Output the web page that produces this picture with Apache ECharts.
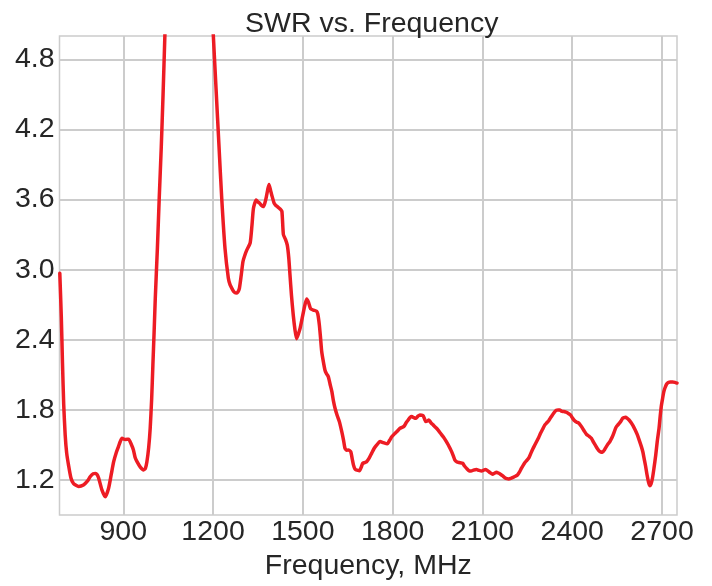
<!DOCTYPE html>
<html>
<head>
<meta charset="utf-8">
<script src="https://cdn.jsdelivr.net/npm/echarts@6/dist/echarts.min.js"></script>
<style>html,body{margin:0;padding:0;background:#fff;}#c{width:712px;height:586px;}</style>
</head>
<body>
<div id="c"></div>
<script>
const freq = [688,693,697,701,706,711,717,725,734,751,767,780,790,800,807,813,818,829,840,851,860,868,876,884,890,896,902,907,918,926,934,940,946,957,968,974,979,985,990,995,999,1003,1007,1014,1020,1027,1033,1039,1050,1065,1085,1110,1135,1160,1180,1192,1201,1210,1220,1229,1240,1251,1257,1263,1270,1277,1283,1288,1294,1300,1307,1313,1324,1330,1335,1344,1350,1355,1362,1368,1373,1377,1383,1387,1392,1396,1404,1410,1415,1424,1430,1435,1442,1448,1453,1457,1462,1468,1474,1479,1485,1491,1502,1508,1513,1519,1526,1535,1546,1550,1555,1559,1563,1568,1574,1579,1585,1591,1597,1602,1608,1615,1622,1630,1636,1641,1647,1652,1660,1665,1669,1674,1678,1689,1695,1700,1707,1713,1722,1730,1738,1747,1758,1769,1782,1790,1797,1808,1816,1824,1831,1838,1845,1852,1858,1864,1870,1877,1884,1891,1897,1902,1907,1911,1916,1921,1928,1936,1944,1952,1960,1969,1978,1986,1992,1997,2003,2008,2015,2022,2034,2040,2047,2055,2062,2070,2080,2088,2097,2104,2111,2119,2126,2134,2140,2147,2153,2160,2168,2175,2182,2188,2195,2202,2210,2217,2224,2230,2236,2242,2249,2256,2262,2269,2275,2281,2288,2294,2301,2308,2315,2322,2328,2334,2340,2347,2353,2358,2364,2369,2375,2380,2387,2394,2401,2409,2415,2420,2426,2431,2440,2448,2456,2464,2472,2479,2485,2490,2496,2501,2508,2514,2520,2526,2530,2534,2540,2546,2552,2557,2563,2568,2573,2578,2584,2590,2597,2603,2610,2617,2624,2631,2636,2640,2645,2650,2655,2659,2663,2668,2673,2679,2684,2690,2694,2698,2702,2706,2710,2715,2721,2728,2736,2745,2750];
const swr = [2.97,2.6,2.2,1.85,1.585,1.43,1.33,1.22,1.17,1.145,1.157,1.19,1.23,1.255,1.257,1.245,1.215,1.114,1.057,1.13,1.25,1.357,1.43,1.486,1.53,1.557,1.55,1.548,1.55,1.51,1.457,1.39,1.357,1.31,1.286,1.3,1.357,1.48,1.643,1.9,2.185,2.46,2.756,3.18,3.6,4.05,4.5,5.0,5.9,7.2,8.6,9.3,8.9,7.6,6.2,5.5,5.0,4.55,4.05,3.61,3.18,2.93,2.87,2.84,2.81,2.80,2.81,2.84,2.95,3.07,3.13,3.17,3.23,3.38,3.526,3.597,3.58,3.57,3.55,3.54,3.57,3.61,3.69,3.73,3.68,3.64,3.57,3.55,3.54,3.52,3.50,3.30,3.26,3.21,3.1,2.955,2.78,2.61,2.48,2.41,2.45,2.50,2.64,2.71,2.75,2.72,2.665,2.655,2.645,2.62,2.53,2.42,2.30,2.22,2.14,2.11,2.085,2.02,1.957,1.88,1.81,1.75,1.70,1.614,1.54,1.47,1.455,1.457,1.443,1.38,1.33,1.295,1.286,1.28,1.31,1.343,1.35,1.357,1.39,1.43,1.47,1.50,1.53,1.52,1.51,1.54,1.57,1.60,1.62,1.643,1.65,1.66,1.69,1.714,1.735,1.743,1.735,1.728,1.745,1.757,1.755,1.75,1.72,1.70,1.705,1.714,1.69,1.67,1.65,1.628,1.60,1.57,1.535,1.50,1.47,1.443,1.405,1.37,1.355,1.35,1.343,1.32,1.30,1.28,1.277,1.285,1.29,1.283,1.277,1.285,1.29,1.277,1.262,1.25,1.258,1.266,1.26,1.25,1.235,1.22,1.212,1.21,1.215,1.223,1.232,1.243,1.27,1.30,1.325,1.35,1.37,1.394,1.43,1.47,1.5,1.53,1.565,1.60,1.635,1.67,1.69,1.71,1.735,1.757,1.78,1.797,1.80,1.80,1.79,1.786,1.785,1.78,1.77,1.757,1.73,1.705,1.695,1.69,1.675,1.657,1.62,1.59,1.575,1.557,1.52,1.49,1.465,1.448,1.44,1.437,1.46,1.486,1.51,1.53,1.55,1.57,1.61,1.65,1.67,1.685,1.705,1.728,1.735,1.737,1.728,1.714,1.69,1.666,1.63,1.59,1.54,1.486,1.44,1.386,1.32,1.243,1.18,1.152,1.165,1.215,1.3,1.414,1.53,1.643,1.75,1.84,1.9,1.957,1.99,2.02,2.035,2.04,2.04,2.034,2.03];
const xTicks = [900,1200,1500,1800,2100,2400,2700];
const yTicks = [1.2,1.8,2.4,3.0,3.6,4.2,4.8];

const chart = echarts.init(document.getElementById('c'), null, {renderer:'canvas'});
const FONT = 'Liberation Sans';
const TXT = '#262626';
const GRID = '#cccccc';
chart.setOption({
  backgroundColor:'#ffffff',
  animation:false,
  title:{text:'SWR vs. Frequency', left:240, top:5, textStyle:{fontFamily:FONT,fontSize:28.5,fontWeight:'normal',color:TXT}},
  grid:{left:59.5, right:35, top:36, bottom:69, show:true, borderColor:GRID, borderWidth:1.5, backgroundColor:'#fff'},
  xAxis:{type:'value', min:687, max:2750,
    name:'Frequency, MHz', nameLocation:'middle', nameGap:31,
    nameTextStyle:{fontFamily:FONT,fontSize:28.5,color:TXT},
    axisLine:{show:false}, axisTick:{show:false, customValues:xTicks},
    axisLabel:{customValues:xTicks, fontFamily:FONT, fontSize:28.5, color:TXT, margin:3, formatter:v=>String(v)},
    splitLine:{show:true, lineStyle:{color:GRID, width:2}}},
  yAxis:{type:'value', min:0.9, max:5.0,
    axisLine:{show:false}, axisTick:{show:false, customValues:yTicks},
    axisLabel:{customValues:yTicks, fontFamily:FONT, fontSize:28.5, color:TXT, margin:5, formatter:v=>v.toFixed(1)},
    splitLine:{show:true, lineStyle:{color:GRID, width:2}}},
  series:[{type:'line', data:freq.map((f,i)=>[f,swr[i]]), showSymbol:false, smooth:0.2, clip:true,
    lineStyle:{color:'#ed1c24', width:3.5, join:'round', cap:'round'}}]
});
</script>
</body>
</html>
